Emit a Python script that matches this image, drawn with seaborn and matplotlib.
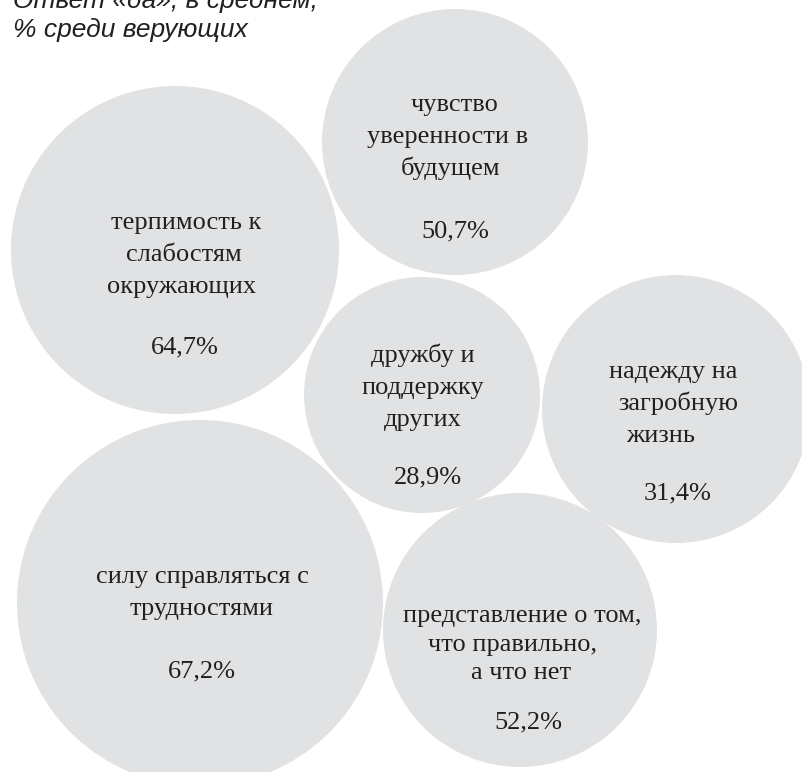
import matplotlib
matplotlib.use("Agg")
import matplotlib.pyplot as plt
import seaborn as sns
import pandas as pd

# ---- data ----
categories = [
    "терпимость к слабостям окружающих",
    "чувство уверенности в будущем",
    "дружбу и поддержку других",
    "надежду на загробную жизнь",
    "силу справляться с трудностями",
    "представление о том, что правильно, а что нет",
]
label_lines = [
    ["терпимость к", "слабостям", "окружающих"],
    ["чувство", "уверенности в", "будущем"],
    ["дружбу и", "поддержку", "других"],
    ["надежду на", "загробную", "жизнь"],
    ["силу справляться с", "трудностями"],
    ["представление о том,", "что правильно,", "а что нет"],
]
values = [64.7, 50.7, 28.9, 31.4, 67.2, 52.2]
value_labels = ["64,7%", "50,7%", "28,9%", "31,4%", "67,2%", "52,2%"]
title_lines = ["Ответ «да», в среднем,", "% среди верующих"]

# ---- layout (pixel coordinates) ----
W, H, DPI = 803, 772, 100
cx = [175, 455, 422, 676, 200, 520]
cy = [250, 142, 395, 409, 603, 630]
radius = [164, 133, 118, 134, 183, 137]
line_x = [[186, 184, 182], [455, 448, 451], [423, 423, 423],
          [673, 678, 661], [202, 202], [522, 513, 521]]
line_y = [[229, 261, 293], [111, 143, 175], [362, 394, 426],
          [378, 410, 442], [583, 615], [622, 651, 679]]
value_xy = [(185, 353), (455, 237), (428, 483), (678, 499), (202, 677), (528, 728)]

circle_color = "#e1e2e4"
text_color = "#231f20"

sns.set_theme(style="white")
plt.rcParams["font.family"] = ["Liberation Serif", "DejaVu Serif"]

fig = plt.figure(figsize=(W / DPI, H / DPI), dpi=DPI)
ax = fig.add_axes([0, 0, 1, 1])

df = pd.DataFrame({
    "category": categories,
    "value": values,
    "cx": cx,
    "cy": cy,
    "s": [(2 * r * 72 / DPI) ** 2 for r in radius],
})

sns.scatterplot(data=df, x="cx", y="cy", s=df["s"], color=circle_color,
                linewidth=0, edgecolor="none", alpha=1, legend=False, ax=ax)

ax.set_xlim(0, W)
ax.set_ylim(H, 0)
ax.set_aspect("equal")
ax.axis("off")

for lines, xs, ys, (vx, vy), vl in zip(label_lines, line_x, line_y, value_xy, value_labels):
    for t, x, y in zip(lines, xs, ys):
        ax.text(x, y, t, ha="center", va="baseline", fontsize=19,
                color=text_color, family=["Liberation Serif", "DejaVu Serif"])
    ax.text(vx, vy, vl, ha="center", va="baseline", fontsize=19,
            color=text_color, family=["Liberation Serif", "DejaVu Serif"])

ax.text(13, 8, title_lines[0], ha="left", va="baseline", fontsize=19,
        style="italic", color=text_color, family=["Liberation Sans", "DejaVu Sans"])
ax.text(13, 37, title_lines[1], ha="left", va="baseline", fontsize=19,
        style="italic", color=text_color, family=["Liberation Sans", "DejaVu Sans"])

fig.savefig("out.png", dpi=DPI)
